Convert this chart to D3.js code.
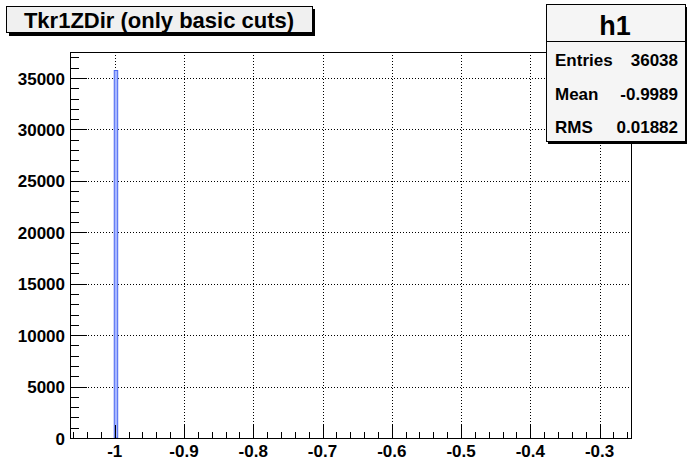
<!DOCTYPE html>
<html>
<head>
<meta charset="utf-8">
<script src="https://cdn.jsdelivr.net/npm/d3@7"></script>
<style>
  html, body { margin: 0; padding: 0; background: #ffffff; }
  svg { display: block; }
  text { font-family: "Liberation Sans", Arial, Helvetica, sans-serif; font-weight: bold; fill: #000; }
</style>
</head>
<body>
<script>
// Histogram of Tkr1ZDir: bin lower edges and counts (nearly everything sits at -1)
const binLow   = [-1.0];
const binWidth = 0.005;
const counts   = [35730];

const xTicks = [-1, -0.9, -0.8, -0.7, -0.6, -0.5, -0.4, -0.3];
const yTicks = [0, 5000, 10000, 15000, 20000, 25000, 30000, 35000];

const title = "Tkr1ZDir (only basic cuts)";
const statsName = "h1";
const statsRows = [["Entries", "36038"], ["Mean", "-0.9989"], ["RMS", "0.01882"]];

const W = 687, H = 466;
const frame = { left: 70, right: 631, top: 52, bottom: 438 };

const svg = d3.select("body").append("svg").attr("width", W).attr("height", H);

const x = d3.scaleLinear().domain([-1.0646, -0.2546]).range([frame.left, frame.right]);
const y = d3.scaleLinear().domain([0, 37530]).range([frame.bottom, frame.top]);
const px = v => Math.round(v) + 0.5;

// dotted grid at major ticks
const grid = svg.append("g").attr("stroke", "#000").attr("stroke-width", 1)
  .attr("stroke-dasharray", "1,2");
grid.selectAll("line.gx").data(xTicks).join("line").attr("class", "gx")
  .attr("x1", d => px(x(d))).attr("x2", d => px(x(d)))
  .attr("y1", frame.top).attr("y2", frame.bottom);
grid.selectAll("line.gy").data(yTicks.filter(d => d > 0)).join("line").attr("class", "gy")
  .attr("y1", d => px(y(d))).attr("y2", d => px(y(d)))
  .attr("x1", frame.left).attr("x2", frame.right);

// histogram bars
svg.append("g").selectAll("rect").data(binLow).join("rect")
  .attr("x", d => x(d) - 0.5)
  .attr("width", d => x(d + binWidth) - x(d))
  .attr("y", (d, i) => y(counts[i]))
  .attr("height", (d, i) => y(0) - y(counts[i]))
  .attr("fill", "#a8b8ff")
  .attr("stroke", "#4a66f0")
  .attr("stroke-width", 1);

// frame
svg.append("rect")
  .attr("x", frame.left + 0.5).attr("y", frame.top + 0.5)
  .attr("width", frame.right - frame.left).attr("height", frame.bottom - frame.top)
  .attr("fill", "none").attr("stroke", "#000").attr("stroke-width", 1);

// x axis ticks (major every 0.1, minor every 0.02)
const xMinor = d3.range(-1.06, -0.255, 0.02).map(v => +v.toFixed(2));
svg.append("g").attr("stroke", "#000").selectAll("line").data(xMinor).join("line")
  .attr("x1", d => px(x(d))).attr("x2", d => px(x(d)))
  .attr("y1", frame.bottom)
  .attr("y2", d => frame.bottom - (xTicks.some(t => Math.abs(t - d) < 1e-6) ? 13 : 6));
svg.append("g").selectAll("text").data(xTicks).join("text")
  .attr("x", d => x(d)).attr("y", 457)
  .attr("text-anchor", "middle").attr("font-size", 17)
  .text(d => String(d));

// y axis ticks (major every 5000, minor every 1000)
const yMinor = d3.range(0, 37001, 1000);
svg.append("g").attr("stroke", "#000").selectAll("line").data(yMinor).join("line")
  .attr("y1", d => px(y(d))).attr("y2", d => px(y(d)))
  .attr("x1", frame.left)
  .attr("x2", d => frame.left + (d % 5000 === 0 ? 17 : 9));
svg.append("g").selectAll("text").data(yTicks).join("text")
  .attr("x", 65).attr("y", d => y(d) + 6.5)
  .attr("text-anchor", "end").attr("font-size", 17)
  .text(d => d);

// title box with drop shadow
const tb = svg.append("g");
tb.append("rect").attr("x", 9).attr("y", 9).attr("width", 306).attr("height", 27).attr("fill", "#000");
tb.append("rect").attr("x", 6.5).attr("y", 6.5).attr("width", 306).attr("height", 26)
  .attr("fill", "#f0f0f0").attr("stroke", "#000");
tb.append("text").attr("x", 159).attr("y", 27.5).attr("text-anchor", "middle")
  .attr("font-size", 22).text(title);

// statistics box
const sb = svg.append("g");
sb.append("rect").attr("x", 548).attr("y", 7).attr("width", 139).attr("height", 137).attr("fill", "#000");
sb.append("rect").attr("x", 546.5).attr("y", 4.5).attr("width", 139).attr("height", 137)
  .attr("fill", "#f5f5f5").attr("stroke", "#000");
sb.append("line").attr("x1", 546.5).attr("x2", 685.5).attr("y1", 41.5).attr("y2", 41.5).attr("stroke", "#000");
sb.append("text").attr("x", 615).attr("y", 35).attr("text-anchor", "middle")
  .attr("font-size", 27).text(statsName);
sb.selectAll("text.k").data(statsRows).join("text").attr("class", "k")
  .attr("x", 555).attr("y", (d, i) => 66 + i * 33.5).attr("font-size", 17).text(d => d[0]);
sb.selectAll("text.v").data(statsRows).join("text").attr("class", "v")
  .attr("x", 678).attr("y", (d, i) => 66 + i * 33.5).attr("text-anchor", "end")
  .attr("font-size", 17).text(d => d[1]);
</script>
</body>
</html>
